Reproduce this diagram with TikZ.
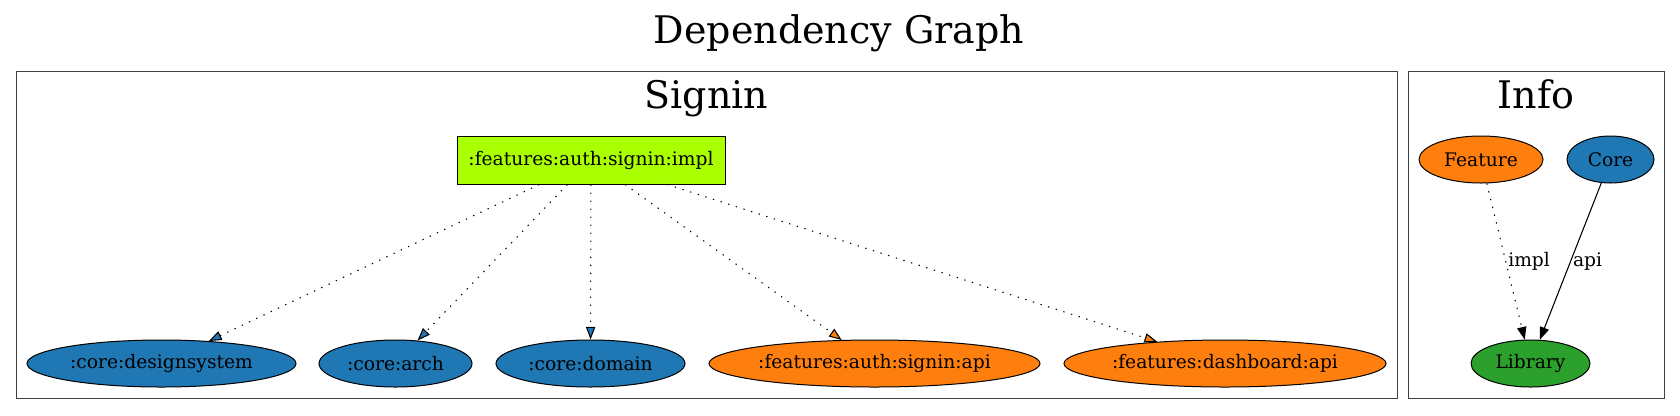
\documentclass[tikz,border=0pt]{standalone}
\usepackage{fontspec}
\setmainfont{DejaVu Serif}
\usetikzlibrary{arrows.meta,shapes.geometric}
\definecolor{coreblue}{RGB}{31,119,180}
\definecolor{featorange}{RGB}{255,127,14}
\definecolor{libgreen}{RGB}{44,160,44}
\definecolor{impllime}{RGB}{170,255,0}
\tikzset{
  module/.style={ellipse,draw=black,line width=0.75pt,inner sep=0pt,
                 minimum height=35.25pt,font=\fontsize{14}{16}\selectfont},
  coremod/.style={module,fill=coreblue},
  featmod/.style={module,fill=featorange},
  libmod/.style={module,fill=libgreen},
  implmod/.style={draw=black,line width=0.75pt,fill=impllime,inner sep=0pt,
                  minimum width=201pt,minimum height=36pt,font=\fontsize{14}{16}\selectfont},
  cluster/.style={draw=black!75,line width=0.75pt},
  clusterlab/.style={font=\fontsize{28.5}{34}\selectfont,anchor=base},
  dep/.style={line width=0.8pt,dash pattern=on 1pt off 5pt},
  tocore/.style={dep,-{Triangle[length=9.5pt,width=7pt,fill=coreblue]}},
  tofeat/.style={dep,-{Triangle[length=9.5pt,width=7pt,fill=featorange]}},
  implink/.style={dep,-{Triangle[length=9.5pt,width=7pt,fill=black]}},
  apilink/.style={line width=0.8pt,-{Triangle[length=9.5pt,width=7pt,fill=black]}},
  edgelab/.style={font=\fontsize{14}{16}\selectfont,midway,right,inner sep=1.5pt},
}

\begin{document}
\begin{tikzpicture}[x=0.75pt,y=-0.75pt]
  \useasboundingbox (0,0) rectangle (1680,415);
  \node[clusterlab] (title) at (839,43) {Dependency Graph};

  % clusters
  \draw[cluster] (16,71) rectangle (1397,398);
  \node[clusterlab] (signinlab) at (706.5,108) {Signin};
  \draw[cluster] (1408,71) rectangle (1664,398);
  \node[clusterlab] (infolab) at (1536,108) {Info};

  % Signin modules
  \node[implmod] (impl) at (591,160) {:features:auth:signin:impl};
  \node[coremod,minimum width=201.75pt] (dsys) at (161.5,363.5) {:core:designsystem};
  \node[coremod,minimum width=114.75pt] (arch) at (395.5,363.5) {:core:arch};
  \node[coremod,minimum width=141.75pt] (domain) at (590.5,363.5) {:core:domain};
  \node[featmod,minimum width=248.25pt] (sapi) at (874.5,363.5) {:features:auth:signin:api};
  \node[featmod,minimum width=241.5pt] (dapi) at (1225,363.5) {:features:dashboard:api};

  \draw[tocore] (impl) -- (dsys);
  \draw[tocore] (impl) -- (arch);
  \draw[tocore] (impl) -- (domain);
  \draw[tofeat] (impl) -- (sapi);
  \draw[tofeat] (impl) -- (dapi);

  % legend
  \node[featmod,minimum width=93pt] (feature) at (1481,159.5) {Feature};
  \node[coremod,minimum width=65.25pt] (core) at (1610.5,159.5) {Core};
  \node[libmod,minimum width=89.25pt] (library) at (1530.5,363.5) {Library};

  \draw[implink] (feature) -- node[edgelab] {impl} (library);
  \draw[apilink] (core) -- node[edgelab] {api} (library);
\end{tikzpicture}
\end{document}
